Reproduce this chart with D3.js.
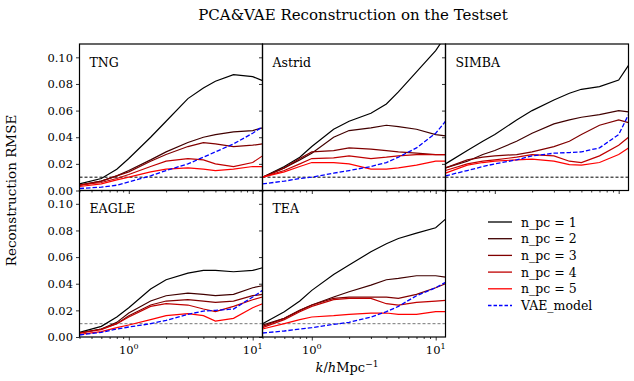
<!DOCTYPE html>
<html>
<head>
<meta charset="utf-8">
<script src="https://cdn.jsdelivr.net/npm/d3@7"></script>
<style>
  body { margin: 0; background: #fff; }
  svg { display: block; font-family: "DejaVu Serif", serif; }
</style>
</head>
<body>
<svg id="chart" width="634" height="381"></svg>
<script>
// k bins (h/Mpc)
const kVals = [0.4, 0.6, 0.8, 1.0, 1.5, 2, 3, 4, 5, 7, 10, 12];

const seriesNames = ["n_pc = 1", "n_pc = 2", "n_pc = 3", "n_pc = 4", "n_pc = 5", "VAE_model"];
const seriesColors = ["#000000", "#400000", "#800000", "#bf0000", "#ff0000", "#0000ff"];

// rows: n_pc = 1..5, then VAE_model
const tng = [
  [0.005, 0.009, 0.016, 0.024, 0.040, 0.052, 0.069, 0.077, 0.082, 0.087, 0.0855, 0.0825],
  [0.004, 0.007, 0.011, 0.015, 0.023, 0.029, 0.036, 0.040, 0.042, 0.044, 0.045, 0.047],
  [0.004, 0.007, 0.011, 0.014, 0.022, 0.027, 0.033, 0.036, 0.035, 0.033, 0.034, 0.035],
  [0.004, 0.006, 0.009, 0.012, 0.018, 0.022, 0.024, 0.023, 0.020, 0.018, 0.021, 0.026],
  [0.003, 0.005, 0.008, 0.010, 0.014, 0.016, 0.017, 0.016, 0.015, 0.016, 0.018, 0.018],
  [0.0015, 0.0025, 0.004, 0.0065, 0.011, 0.015, 0.020, 0.025, 0.029, 0.035, 0.043, 0.048]
];
const astrid = [
  [0.010, 0.018, 0.025, 0.033, 0.046, 0.052, 0.058, 0.065, 0.074, 0.089, 0.105, 0.116],
  [0.010, 0.017, 0.023, 0.028, 0.040, 0.045, 0.047, 0.049, 0.048, 0.046, 0.042, 0.041],
  [0.010, 0.017, 0.024, 0.029, 0.030, 0.032, 0.031, 0.030, 0.029, 0.028, 0.027, 0.027],
  [0.010, 0.015, 0.020, 0.024, 0.0245, 0.026, 0.024, 0.025, 0.026, 0.027, 0.027, 0.027],
  [0.010, 0.014, 0.018, 0.021, 0.021, 0.020, 0.016, 0.016, 0.017, 0.019, 0.022, 0.022],
  [0.005, 0.007, 0.009, 0.010, 0.013, 0.015, 0.018, 0.021, 0.025, 0.032, 0.043, 0.052]
];
const simba = [
  [0.020, 0.030, 0.037, 0.042, 0.053, 0.060, 0.068, 0.073, 0.076, 0.078, 0.083, 0.094],
  [0.017, 0.022, 0.027, 0.030, 0.037, 0.043, 0.050, 0.053, 0.055, 0.057, 0.060, 0.059],
  [0.017, 0.023, 0.025, 0.026, 0.027, 0.029, 0.033, 0.037, 0.042, 0.049, 0.053, 0.051],
  [0.015, 0.020, 0.022, 0.023, 0.025, 0.027, 0.026, 0.022, 0.021, 0.026, 0.034, 0.040],
  [0.013, 0.019, 0.021, 0.022, 0.023, 0.0235, 0.022, 0.0195, 0.019, 0.021, 0.027, 0.032],
  [0.011, 0.015, 0.018, 0.020, 0.023, 0.026, 0.028, 0.0285, 0.029, 0.032, 0.042, 0.057]
];
const eagle = [
  [0.0035, 0.008, 0.015, 0.022, 0.036, 0.043, 0.048, 0.050, 0.050, 0.049, 0.050, 0.052],
  [0.003, 0.006, 0.011, 0.018, 0.027, 0.031, 0.033, 0.032, 0.031, 0.032, 0.037, 0.0385],
  [0.003, 0.006, 0.010, 0.016, 0.024, 0.027, 0.028, 0.027, 0.026, 0.027, 0.031, 0.032],
  [0.003, 0.0055, 0.010, 0.015, 0.023, 0.025, 0.024, 0.021, 0.019, 0.023, 0.028, 0.030],
  [0.002, 0.004, 0.007, 0.009, 0.013, 0.016, 0.0175, 0.016, 0.012, 0.014, 0.022, 0.025],
  [0.0015, 0.0035, 0.006, 0.0075, 0.010, 0.0125, 0.017, 0.0195, 0.020, 0.021, 0.030, 0.035]
];
const tea = [
  [0.010, 0.019, 0.027, 0.035, 0.047, 0.054, 0.064, 0.070, 0.074, 0.078, 0.082, 0.0885],
  [0.009, 0.014, 0.020, 0.024, 0.030, 0.034, 0.039, 0.043, 0.044, 0.046, 0.046, 0.045],
  [0.008, 0.014, 0.020, 0.024, 0.029, 0.030, 0.030, 0.030, 0.029, 0.032, 0.037, 0.040],
  [0.007, 0.013, 0.019, 0.023, 0.028, 0.029, 0.029, 0.025, 0.024, 0.026, 0.027, 0.0275],
  [0.006, 0.010, 0.013, 0.015, 0.016, 0.017, 0.018, 0.018, 0.017, 0.017, 0.019, 0.019],
  [0.003, 0.0045, 0.006, 0.007, 0.0095, 0.011, 0.015, 0.019, 0.023, 0.031, 0.037, 0.041]
];

const yTicks = [0, 0.02, 0.04, 0.06, 0.08, 0.10];
const xMajor = [1, 10];
const xMinor = [0.4, 0.5, 0.6, 0.7, 0.8, 0.9, 2, 3, 4, 5, 6, 7, 8, 9];
const refLevel = 0.01;

const panels = [
  { name: "TNG", data: tng, col: 0, row: 0 },
  { name: "Astrid", data: astrid, col: 1, row: 0 },
  { name: "SIMBA", data: simba, col: 2, row: 0 },
  { name: "EAGLE", data: eagle, col: 0, row: 1 },
  { name: "TEA", data: tea, col: 1, row: 1 }
];

const svg = d3.select("#chart");
const padLeft = 79.5, padTop = 44, pw = 183, ph = 146.5;

const x = d3.scaleLog().domain([0.4, 12]).range([0, pw]);
const y = d3.scaleLinear().domain([0, 0.11]).range([ph, 0]);

const line = d3.line()
  .x((d, i) => x(kVals[i]))
  .y(d => y(d));

// title
svg.append("text")
  .attr("x", 353).attr("y", 20)
  .attr("text-anchor", "middle")
  .style("font-size", "15px")
  .text("PCA&VAE Reconstruction on the Testset");

panels.forEach((p, pi) => {
  const g = svg.append("g")
    .attr("transform", `translate(${padLeft + p.col * pw},${padTop + p.row * ph})`);

  const clipId = "clip" + pi;
  g.append("clipPath").attr("id", clipId)
    .append("rect").attr("width", pw).attr("height", ph);

  const plot = g.append("g").attr("clip-path", `url(#${clipId})`);

  // reference level
  plot.append("line")
    .attr("x1", 0).attr("x2", pw)
    .attr("y1", y(refLevel)).attr("y2", y(refLevel))
    .attr("stroke", p.row === 0 ? "#000" : "#777")
    .attr("stroke-width", 1)
    .attr("stroke-dasharray", "3,2");

  p.data.forEach((vals, si) => {
    plot.append("path")
      .datum(vals)
      .attr("d", line)
      .attr("fill", "none")
      .attr("stroke", seriesColors[si])
      .attr("stroke-width", si === 5 ? 1.3 : 1.2)
      .attr("stroke-dasharray", si === 5 ? "4.5,2" : null);
  });

  // axes
  const yAxis = d3.axisLeft(y).tickValues(yTicks).tickSize(3.5).tickPadding(3)
    .tickFormat(p.col === 0 ? d3.format(".2f") : "");
  g.append("g").call(yAxis);

  g.append("g").attr("transform", `translate(0,${ph})`)
    .call(d3.axisBottom(x).tickValues(xMajor).tickSize(3.5).tickFormat(""));
  g.append("g").attr("transform", `translate(0,${ph})`)
    .call(d3.axisBottom(x).tickValues(xMinor).tickSize(2).tickFormat(""));

  if (p.row === 1) {
    xMajor.forEach(v => {
      const t = g.append("text")
        .attr("x", x(v)).attr("y", ph + 17)
        .attr("text-anchor", "middle")
        .style("font-size", "11.5px");
      t.append("tspan").text("10");
      t.append("tspan").attr("dy", -5).style("font-size", "8px").text(Math.log10(v));
    });
  }

  g.selectAll(".domain").remove();
  g.selectAll(".tick text").style("font-size", "11.5px").style("font-family", "DejaVu Serif, serif");
  g.selectAll(".tick line").attr("stroke", "#000").attr("stroke-width", 0.8);

  // frame
  g.append("rect")
    .attr("width", pw).attr("height", ph)
    .attr("fill", "none").attr("stroke", "#000").attr("stroke-width", 1.2);

  g.append("text")
    .attr("x", 10).attr("y", 22.5)
    .style("font-size", "12.5px")
    .text(p.name);
});

// axis labels
svg.append("text")
  .attr("transform", `translate(16,${padTop + ph}) rotate(-90)`)
  .attr("text-anchor", "middle")
  .style("font-size", "13.5px")
  .text("Reconstruction RMSE");

const xl = svg.append("text")
  .attr("x", 347).attr("y", 372)
  .attr("text-anchor", "middle")
  .style("font-size", "13px");
xl.append("tspan").style("font-style", "italic").text("k");
xl.append("tspan").text("/");
xl.append("tspan").style("font-style", "italic").text("h");
xl.append("tspan").text("Mpc");
xl.append("tspan").attr("dy", -5).style("font-size", "9px").text("\u22121");

// legend
const legend = svg.append("g").attr("transform", "translate(488,222)");
seriesNames.forEach((name, i) => {
  const row = legend.append("g").attr("transform", `translate(0,${i * 16.7})`);
  row.append("line")
    .attr("x1", 0).attr("x2", 24)
    .attr("stroke", seriesColors[i])
    .attr("stroke-width", 1.3)
    .attr("stroke-dasharray", i === 5 ? "3.5,2" : null);
  row.append("text")
    .attr("x", 33).attr("y", 4.5)
    .style("font-size", "12.5px")
    .text(name);
});
</script>
</body>
</html>
